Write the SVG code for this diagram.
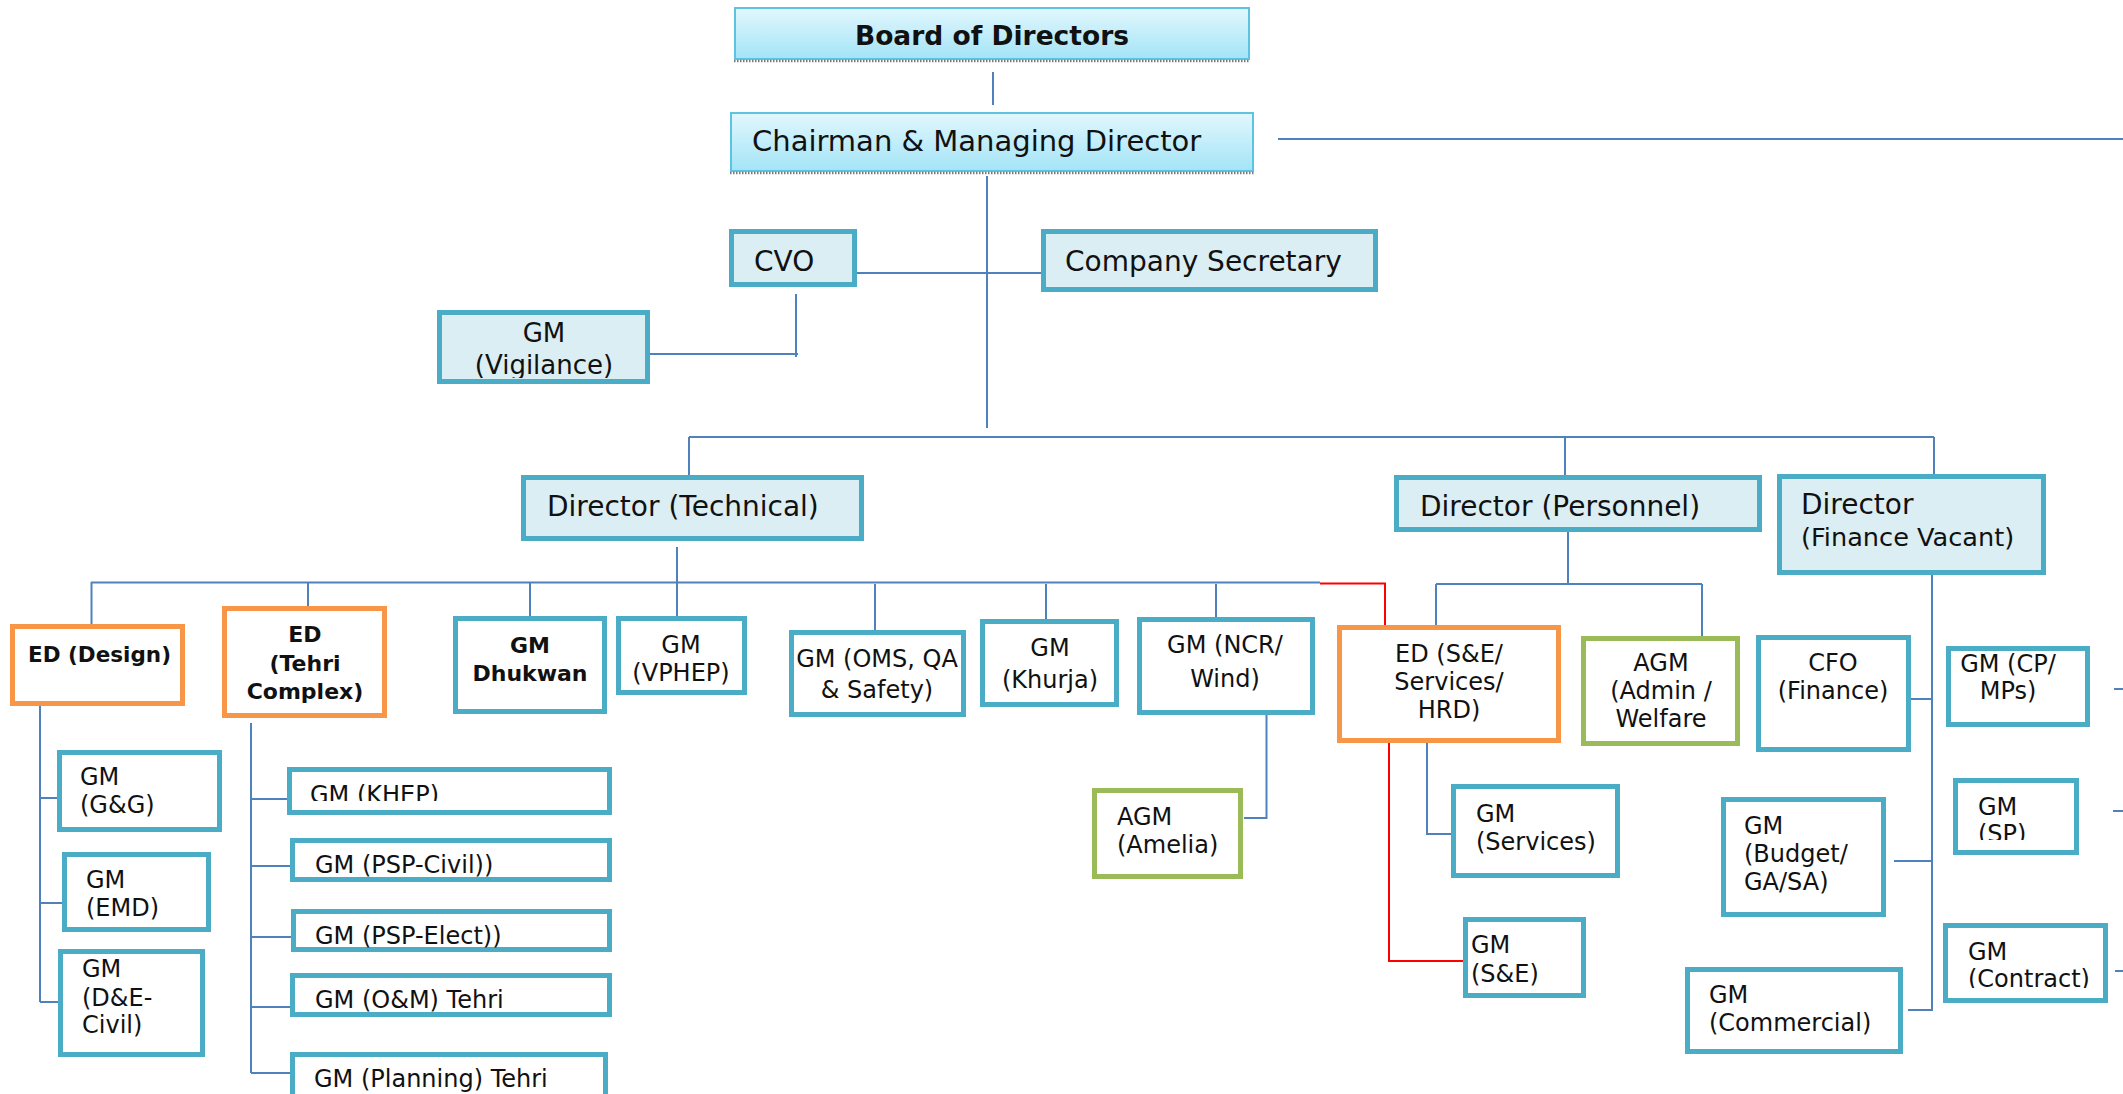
<svg xmlns="http://www.w3.org/2000/svg" width="2123" height="1094" viewBox="0 0 2123 1094">
<defs>
<linearGradient id="gTop" x1="0" y1="0" x2="0" y2="1">
<stop offset="0" stop-color="#e2f7fd"/>
<stop offset="1" stop-color="#a3e4f7"/>
</linearGradient>
<clipPath id="cVig"><rect x="437" y="310" width="213" height="68"/></clipPath>
<clipPath id="cKhep"><rect x="287" y="767" width="325" height="34"/></clipPath>
<clipPath id="cSP"><rect x="1953" y="778" width="126" height="62"/></clipPath>
<clipPath id="cCon"><rect x="1943" y="923" width="165" height="65"/></clipPath>
</defs>
<style>
text{font-family:"DejaVu Sans",Verdana,sans-serif;fill:#111}
.top{fill:url(#gTop);stroke:#5cc3e0;stroke-width:2}
.dot{stroke:#7a7a7a;stroke-width:2.5;stroke-dasharray:1.5 1.5;fill:none}
.b{stroke-width:5;fill:#fff}
.tl{stroke:#4bacc6}
.lf{fill:#dbeef3}
.or{stroke:#f79646}
.gr{stroke:#9bbb59}
.c{stroke:#4f81bd;stroke-width:2;fill:none}
.red{stroke:#ff0000;stroke-width:2;fill:none}
.d{font-size:28px}
.m{font-size:24px}
.bd{font-size:22px;font-weight:bold}
.mid{text-anchor:middle}
</style>

<g id="connectors">
<path class="c" d="M993 72V105"/>
<path class="c" d="M1278 139H2123"/>
<path class="c" d="M987 176V428"/>
<path class="c" d="M856 273H1042"/>
<path class="c" d="M796 294V357M650 354H798"/>
<path class="c" d="M689 437H1934M689 437V475M1565 437V484M1934 437V474"/>
<path class="c" d="M677 547V627"/>
<path class="c" d="M91 582.5H1320M91.5 582V630M308 583V608M530 582V627M875 584V632M1046 584V632M1216 584V629"/>
<path class="red" d="M1320 583.5H1385V630"/>
<path class="c" d="M40 703V1002M40 798H57M40 903H62M40 1002H58"/>
<path class="c" d="M251 723V1073M251 799H287M251 866H290M251 937H291M251 1007H290M251 1073H290"/>
<path class="c" d="M1266.5 715V818H1244"/>
<path class="c" d="M1568 532V584M1436 584H1702M1436 584V630M1702 584V636"/>
<path class="c" d="M1427 743V834H1454"/>
<path class="red" d="M1389 743V961H1464"/>
<path class="c" d="M1932 567V1011M1911 699H1932M1894 861H1932M1908 1010H1932"/>
<path class="c" d="M2114 689H2123M2113 811H2123M2115 971H2123"/>
</g>

<g id="n-board">
<rect class="top" x="735" y="8" width="514" height="51"/>
<line class="dot" x1="734" y1="61" x2="1250" y2="61"/>
<text x="992" y="45" class="mid" style="font-size:26.5px;font-weight:bold">Board of Directors</text>
</g>
<g id="n-cmd">
<rect class="top" x="731" y="113" width="522" height="58"/>
<line class="dot" x1="730" y1="173" x2="1254" y2="173"/>
<text x="752" y="151" style="font-size:29px">Chairman &amp; Managing Director</text>
</g>
<g id="n-cvo">
<rect class="b tl lf" x="731.5" y="231.5" width="123" height="53"/>
<text x="754" y="271" class="d">CVO</text>
</g>
<g id="n-cs">
<rect class="b tl lf" x="1043.5" y="231.5" width="332" height="58"/>
<text x="1065" y="271" class="d">Company Secretary</text>
</g>
<g id="n-vig">
<rect class="b tl lf" x="439.5" y="312.5" width="208" height="69"/>
<g clip-path="url(#cVig)"><text x="544" y="342" class="mid" style="font-size:26px">GM</text>
<text x="544" y="374" class="mid" style="font-size:26px">(Vigilance)</text></g>
</g>
<g id="n-dtech">
<rect class="b tl lf" x="523.5" y="477.5" width="338" height="61"/>
<text x="547" y="516" class="d">Director (Technical)</text>
</g>
<g id="n-dpers">
<rect class="b tl lf" x="1396.5" y="477.5" width="363" height="52"/>
<text x="1420" y="516" class="d">Director (Personnel)</text>
</g>
<g id="n-dfin">
<rect class="b tl lf" x="1779.5" y="476.5" width="264" height="96"/>
<text x="1801" y="514" class="d">Director</text>
<text x="1801" y="546" style="font-size:25.6px">(Finance Vacant)</text>
</g>
<g id="n-eddesign">
<rect class="b or" x="12.5" y="626.5" width="170" height="77"/>
<text x="28" y="662" class="bd" style="font-size:21.5px">ED (Design)</text>
</g>
<g id="n-edtehri">
<rect class="b or" x="224.5" y="608.5" width="160" height="107"/>
<text x="305" y="642" class="bd mid">ED</text>
<text x="305" y="671" class="bd mid">(Tehri</text>
<text x="305" y="699" class="bd mid">Complex)</text>
</g>
<g id="n-dhukwan">
<rect class="b tl" x="455.5" y="618.5" width="149" height="93"/>
<text x="530" y="653" class="bd mid">GM</text>
<text x="530" y="681" class="bd mid">Dhukwan</text>
</g>
<g id="n-vphep">
<rect class="b tl" x="618.5" y="618.5" width="126" height="74"/>
<text x="681" y="653" class="m mid">GM</text>
<text x="681" y="681" class="m mid">(VPHEP)</text>
</g>
<g id="n-oms">
<rect class="b tl" x="791.5" y="632.5" width="172" height="82"/>
<text x="877" y="667" class="m mid">GM (OMS, QA</text>
<text x="877" y="698" class="m mid">&amp; Safety)</text>
</g>
<g id="n-khurja">
<rect class="b tl" x="982.5" y="621.5" width="134" height="83"/>
<text x="1050" y="656" class="m mid">GM</text>
<text x="1050" y="688" class="m mid">(Khurja)</text>
</g>
<g id="n-ncr">
<rect class="b tl" x="1139.5" y="619.5" width="173" height="93"/>
<text x="1225" y="653" class="m mid">GM (NCR/</text>
<text x="1225" y="687" class="m mid">Wind)</text>
</g>
<g id="n-edse">
<rect class="b or" x="1339.5" y="627.5" width="219" height="113"/>
<text x="1449" y="662" class="m mid">ED (S&amp;E/</text>
<text x="1449" y="690" class="m mid">Services/</text>
<text x="1449" y="718" class="m mid">HRD)</text>
</g>
<g id="n-agmadmin">
<rect class="b gr" x="1583.5" y="638.5" width="154" height="105"/>
<text x="1661" y="671" class="m mid">AGM</text>
<text x="1661" y="699" class="m mid">(Admin /</text>
<text x="1661" y="727" class="m mid">Welfare</text>
</g>
<g id="n-cfo">
<rect class="b tl" x="1758.5" y="637.5" width="150" height="112"/>
<text x="1833" y="671" class="m mid">CFO</text>
<text x="1833" y="699" class="m mid">(Finance)</text>
</g>
<g id="n-cp">
<rect class="b tl" x="1948.5" y="648.5" width="139" height="76"/>
<text x="2008" y="672" class="m mid">GM (CP/</text>
<text x="2008" y="699" class="m mid">MPs)</text>
</g>
<g id="n-amelia">
<rect class="b gr" x="1094.5" y="790.5" width="146" height="86"/>
<text x="1117" y="825" class="m">AGM</text>
<text x="1117" y="853" class="m">(Amelia)</text>
</g>
<g id="n-services">
<rect class="b tl" x="1453.5" y="786.5" width="164" height="89"/>
<text x="1476" y="822" class="m">GM</text>
<text x="1476" y="850" class="m">(Services)</text>
</g>
<g id="n-se">
<rect class="b tl" x="1465.5" y="919.5" width="118" height="76"/>
<text x="1471" y="953" class="m">GM</text>
<text x="1471" y="982" class="m">(S&amp;E)</text>
</g>
<g id="n-sp">
<rect class="b tl" x="1955.5" y="780.5" width="121" height="72"/>
<g clip-path="url(#cSP)"><text x="1978" y="815" class="m">GM</text>
<text x="1978" y="842" class="m">(SP)</text></g>
</g>
<g id="n-budget">
<rect class="b tl" x="1723.5" y="799.5" width="160" height="115"/>
<text x="1744" y="834" class="m">GM</text>
<text x="1744" y="862" class="m">(Budget/</text>
<text x="1744" y="890" class="m">GA/SA)</text>
</g>
<g id="n-contract">
<rect class="b tl" x="1945.5" y="925.5" width="160" height="75"/>
<g clip-path="url(#cCon)"><text x="1968" y="960" class="m">GM</text>
<text x="1968" y="987" class="m">(Contract)</text></g>
</g>
<g id="n-commercial">
<rect class="b tl" x="1687.5" y="969.5" width="213" height="82"/>
<text x="1709" y="1003" class="m">GM</text>
<text x="1709" y="1031" class="m">(Commercial)</text>
</g>
<g id="n-gg">
<rect class="b tl" x="59.5" y="752.5" width="160" height="77"/>
<text x="80" y="785" class="m">GM</text>
<text x="80" y="813" class="m">(G&amp;G)</text>
</g>
<g id="n-emd">
<rect class="b tl" x="64.5" y="854.5" width="144" height="75"/>
<text x="86" y="888" class="m">GM</text>
<text x="86" y="916" class="m">(EMD)</text>
</g>
<g id="n-dec">
<rect class="b tl" x="60.5" y="951.5" width="142" height="103"/>
<text x="82" y="977" class="m">GM</text>
<text x="82" y="1006" class="m">(D&amp;E-</text>
<text x="82" y="1033" class="m">Civil)</text>
</g>
<g id="n-khep">
<rect class="b tl" x="289.5" y="769.5" width="320" height="43"/>
<g clip-path="url(#cKhep)"><text x="310" y="803" class="m">GM (KHEP)</text></g>
</g>
<g id="n-pspc">
<rect class="b tl" x="292.5" y="840.5" width="317" height="39"/>
<text x="315" y="873" class="m">GM (PSP-Civil))</text>
</g>
<g id="n-pspe">
<rect class="b tl" x="293.5" y="911.5" width="316" height="38"/>
<text x="315" y="944" class="m">GM (PSP-Elect))</text>
</g>
<g id="n-om">
<rect class="b tl" x="292.5" y="975.5" width="317" height="39"/>
<text x="315" y="1008" class="m">GM (O&amp;M) Tehri</text>
</g>
<g id="n-planning">
<rect class="b tl" x="292.5" y="1054.5" width="313" height="60"/>
<text x="314" y="1087" class="m">GM (Planning) Tehri</text>
</g>
</svg>
